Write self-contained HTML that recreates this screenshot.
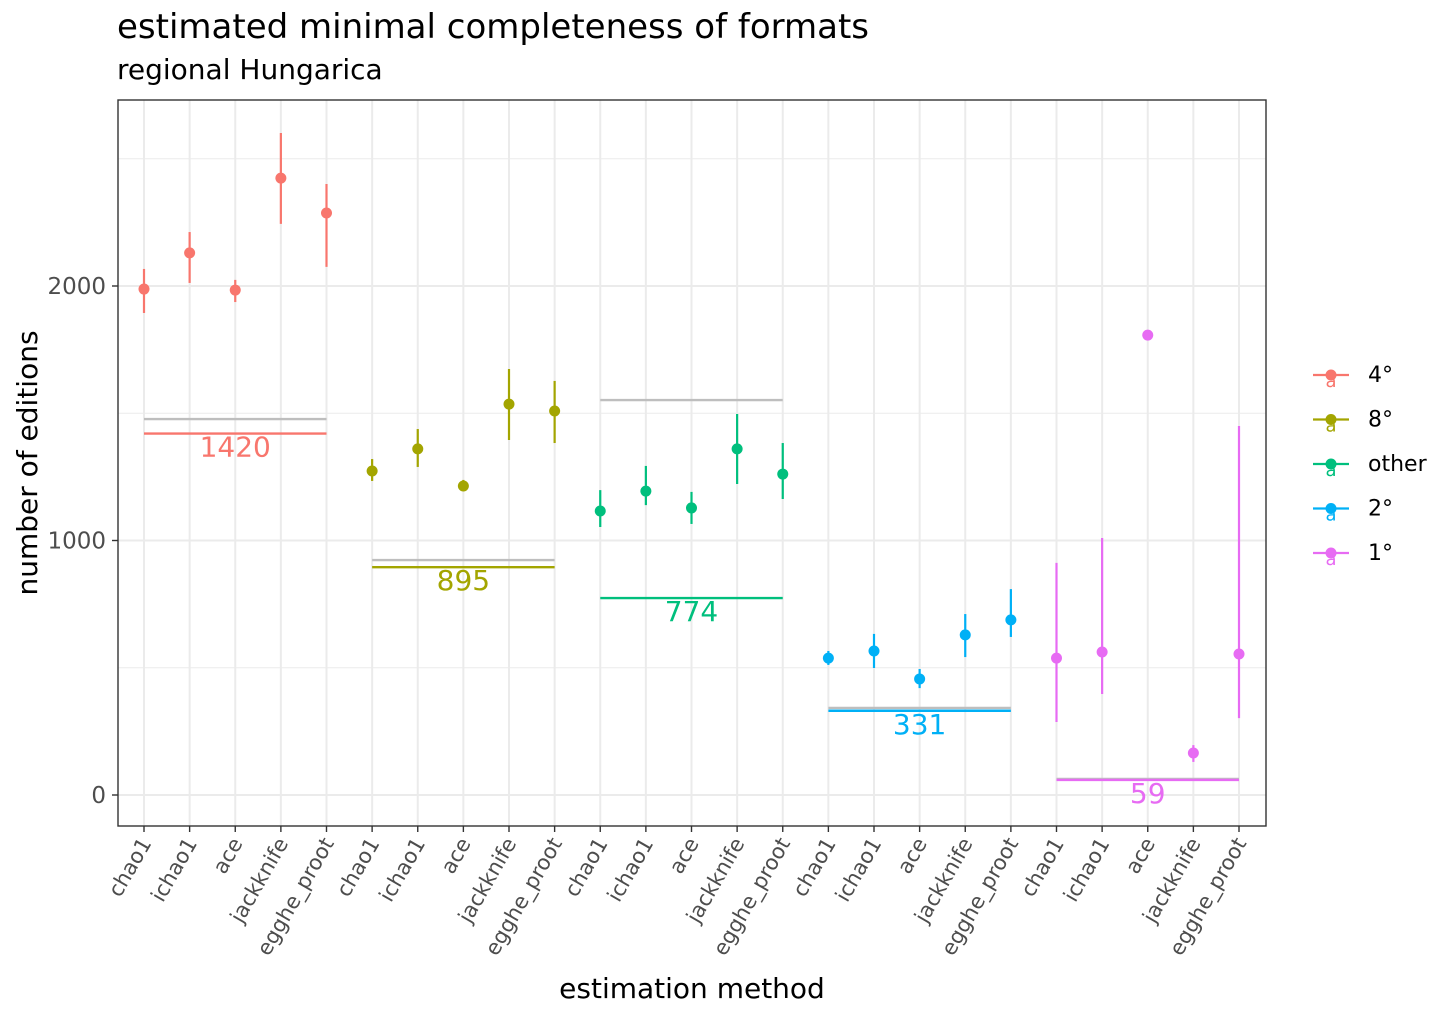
<!DOCTYPE html>
<html><head><meta charset="utf-8"><style>
body{margin:0;background:#fff;}
svg{display:block;font-family:"DejaVu Sans","Liberation Sans",sans-serif;}
</style></head><body>
<svg id="chart" width="1456" height="1019"></svg>
<script>
const groups=["4°","8°","other","2°","1°"];
const colors=["#F8766D","#A3A500","#00BF7D","#00B0F6","#E76BF3"];
const methods=["chao1","ichao1","ace","jackknife","egghe_proot"];
const est4=[1988,2130,1984,2424,2287];
const lo4=[1894,2012,1937,2244,2075];
const hi4=[2067,2212,2024,2601,2401];
const est8=[1273,1360,1214,1536,1509];
const lo8=[1234,1289,1194,1395,1383];
const hi8=[1320,1438,1238,1674,1627];
const estO=[1116,1194,1128,1360,1261];
const loO=[1053,1139,1065,1222,1163];
const hiO=[1198,1293,1191,1497,1383];
const est2=[538,566,456,629,688];
const lo2=[511,499,420,542,621];
const hi2=[566,633,495,711,809];
const est1=[538,562,1807,165,554];
const lo1=[287,397,1807,130,302];
const hi1=[912,1010,1807,196,1450];
const observed=[1420,895,774,331,59];
const grayLine=[1477,923,1552,342,63];
const yTicks=[0,1000,2000];
const yMinor=[500,1500,2500];

const ests=[est4,est8,estO,est2,est1],los=[lo4,lo8,loO,lo2,lo1],his=[hi4,hi8,hiO,hi2,hi1];
const L=118,R=1266,T=100,B=826;
const y=v=>795-v*0.2545;
const x=i=>144+i*45.625;
const svg=document.getElementById('chart');
const NS="http://www.w3.org/2000/svg";
function mk(tag,attrs,parent){const e=document.createElementNS(NS,tag);for(const k in attrs)e.setAttribute(k,attrs[k]);(parent||svg).appendChild(e);return e;}

let t=mk('text',{x:117,y:38,'font-size':'34',fill:'#000'});t.textContent='estimated minimal completeness of formats';

t=mk('text',{x:117,y:79,'font-size':'28',fill:'#000'});t.textContent='regional Hungarica';


const grid=mk('g',{});

yMinor.forEach(v=>{if(y(v)>T)mk('line',{x1:L,x2:R,y1:y(v),y2:y(v),stroke:'#ebebeb','stroke-width':1},grid);});
yTicks.forEach(v=>mk('line',{x1:L,x2:R,y1:y(v),y2:y(v),stroke:'#ebebeb','stroke-width':2},grid));
for(let i=0;i<25;i++)mk('line',{x1:x(i),x2:x(i),y1:T,y2:B,stroke:'#ebebeb','stroke-width':2},grid);

yTicks.forEach(v=>{
 mk('line',{x1:L-6,x2:L,y1:y(v),y2:y(v),stroke:'#333','stroke-width':1.4});
 const tt=mk('text',{x:L-12,y:y(v)+8,'font-size':'23','text-anchor':'end',fill:'#4d4d4d'});tt.textContent=v;
 
});
t=mk('text',{x:0,y:0,'font-size':'28','text-anchor':'middle',transform:`translate(37,${(T+B)/2}) rotate(-90)`});t.textContent='number of editions';


for(let g=0;g<5;g++)for(let m=0;m<5;m++){
 const i=g*5+m;
 mk('line',{x1:x(i),x2:x(i),y1:B,y2:B+6,stroke:'#333','stroke-width':1.4});
 const tt=mk('text',{x:0,y:0,'font-size':'21','text-anchor':'end',fill:'#4d4d4d',transform:`translate(${x(i)+8},${B+17}) rotate(-60)`});
 tt.textContent=methods[m];
 
}
t=mk('text',{x:692,y:998,'font-size':'28','text-anchor':'middle'});t.textContent='estimation method';


for(let g=0;g<5;g++){
 const c=colors[g];
 const grp=mk('g',{});
 
 const x1=x(g*5),x2=x(g*5+4);
 let l=mk('line',{x1,x2,y1:y(grayLine[g]),y2:y(grayLine[g]),stroke:'#bebebe','stroke-width':2.4},grp);
 
 l=mk('line',{x1,x2,y1:y(observed[g]),y2:y(observed[g]),stroke:c,'stroke-width':2.4},grp);
 
 const lab=mk('text',{x:x(g*5+2),y:y(observed[g])+23,'font-size':'28','text-anchor':'middle',fill:c},grp);
 lab.textContent=observed[g];
 
 for(let m=0;m<5;m++){
  const i=g*5+m;
  const eb=mk('line',{x1:x(i),x2:x(i),y1:y(his[g][m]),y2:y(los[g][m]),stroke:c,'stroke-width':2.2},grp);
  
  const p=mk('circle',{cx:x(i),cy:y(ests[g][m]),r:5.5,fill:c},grp);
  
 }
}
mk('rect',{x:L,y:T,width:R-L,height:B-T,fill:'none',stroke:'#333','stroke-width':1.4});

const leg=mk('g',{});

groups.forEach((gname,k)=>{
 const cy=375+k*44.5;
 const e=mk('g',{},leg);
 
 mk('line',{x1:1313,x2:1349,y1:cy,y2:cy,stroke:colors[k],'stroke-width':2.2},e);
 mk('circle',{cx:1331,cy:cy,r:5.5,fill:colors[k]},e);
 const a=mk('text',{x:1331,y:cy+12,'font-size':'18','text-anchor':'middle',fill:colors[k]},e);a.textContent='a';
 const lt=mk('text',{x:1368,y:cy+7,'font-size':'22',fill:'#000'},e);lt.textContent=gname;
});
</script>
</body></html>
